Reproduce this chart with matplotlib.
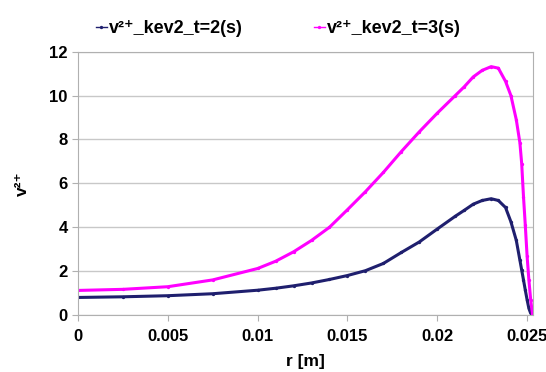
import matplotlib
matplotlib.use("Agg")
import matplotlib.pyplot as plt

plt.rcParams["font.family"] = ["Liberation Sans", "DejaVu Sans"]
plt.rcParams["font.weight"] = "bold"

# radius [m]
r = [0, 0.0025, 0.005, 0.0075, 0.010, 0.011, 0.012, 0.013, 0.014, 0.015,
     0.016, 0.017, 0.018, 0.019, 0.020, 0.021, 0.0215, 0.022, 0.0225, 0.023,
     0.0234, 0.0238, 0.0241, 0.0244, 0.0246, 0.0247, 0.0248, 0.0249, 0.0250,
     0.0251, 0.0252, 0.0253]

# v2+ at t=2 s
v_t2 = [0.80, 0.83, 0.88, 0.97, 1.13, 1.22, 1.33, 1.46, 1.62, 1.80,
        2.02, 2.35, 2.85, 3.33, 3.92, 4.50, 4.77, 5.05, 5.22, 5.30,
        5.22, 4.90, 4.25, 3.40, 2.50, 2.05, 1.60, 1.14, 0.70,
        0.30, 0.08, 0.0]

# v2+ at t=3 s
v_t3 = [1.12, 1.17, 1.29, 1.60, 2.12, 2.45, 2.88, 3.40, 4.00, 4.80,
        5.62, 6.50, 7.45, 8.35, 9.20, 10.00, 10.40, 10.85, 11.15, 11.32,
        11.25, 10.65, 10.00, 8.90, 7.85, 6.90, 5.40, 4.10, 2.70,
        1.60, 0.70, 0.05]

labels = ["v²⁺_kev2_t=2(s)", "v²⁺_kev2_t=3(s)"]
colors = ["#1F1F6E", "#FF00FF"]

fig = plt.figure(figsize=(5.46, 3.72), dpi=100)
ax = fig.add_axes([0.1429, 0.1532, 0.8333, 0.7078])

for vals, lab, col in zip([v_t2, v_t3], labels, colors):
    ax.plot(r, vals, color=col, linewidth=2.2, marker="o", markersize=2.4,
            markeredgewidth=0, label=lab)

ax.set_xlim(0, 0.02533)
ax.set_ylim(0, 12)
ax.set_xticks([0, 0.005, 0.01, 0.015, 0.02, 0.025])
ax.set_xticklabels(["0", "0.005", "0.01", "0.015", "0.02", "0.025"])
ax.set_yticks(range(0, 13, 2))
ax.grid(axis="y", color="#C8C8C8", linewidth=1.0)
ax.set_axisbelow(True)
for side in ax.spines.values():
    side.set_color("#B0B0B0")
ax.tick_params(axis="both", colors="#B0B0B0", labelcolor="black",
               labelsize=12, length=4, direction="out")
ax.tick_params(axis="x", pad=6)
ax.set_xlabel("r [m]", fontsize=12.5, fontweight="bold", labelpad=7)
ax.set_ylabel("v²⁺", fontsize=12.5, fontweight="bold", labelpad=14)

leg = fig.legend(loc="upper center", bbox_to_anchor=(0.51, 0.99), ncol=2,
                 frameon=False, fontsize=13, handlelength=0.6, handletextpad=0.15,
                 columnspacing=3.9)
for h in leg.legend_handles:
    h.set_linewidth(1.0)

fig.savefig("out.png", dpi=100)
